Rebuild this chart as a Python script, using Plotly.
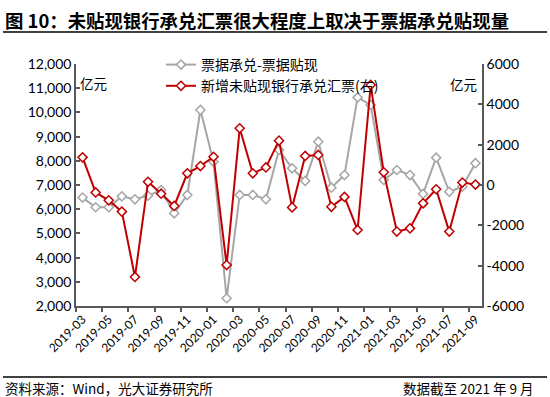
import plotly.graph_objects as go

# ---------------- data ----------------
months = [
    "2019-03", "2019-04", "2019-05", "2019-06", "2019-07", "2019-08", "2019-09", "2019-10",
    "2019-11", "2019-12", "2020-01", "2020-02", "2020-03", "2020-04", "2020-05", "2020-06",
    "2020-07", "2020-08", "2020-09", "2020-10", "2020-11", "2020-12", "2021-01", "2021-02",
    "2021-03", "2021-04", "2021-05", "2021-06", "2021-07", "2021-08", "2021-09",
]
accept_minus_discount = [
    6480, 6080, 6080, 6530, 6410, 6560, 6790, 5830,
    6590, 10100, 7960, 2320, 6590, 6590, 6410, 8450,
    7690, 7170, 8790, 6890, 7410, 10620, 10310, 7210,
    7620, 7410, 6630, 8130, 6720, 6930, 7900,
]
new_undiscounted = [
    1370, -370, -760, -1320, -4560, 160, -430, -1040,
    580, 940, 1400, -3970, 2810, 580, 870, 2200,
    -1110, 1440, 1490, -1080, -590, -2230, 4960, 630,
    -2310, -2150, -910, -210, -2310, 120, 20,
]
name_gray = "票据承兑-票据贴现"
name_red = "新增未贴现银行承兑汇票(右)"
left_ticks = [2000, 3000, 4000, 5000, 6000, 7000, 8000, 9000, 10000, 11000, 12000]
right_ticks = [-6000, -4000, -2000, 0, 2000, 4000, 6000]
right_tick_text = ["-6000", "-4000", "-2000", "0", "2000", "4000", "6000"]
unit_text = "亿元"
title_text = "图 10：未贴现银行承兑汇票很大程度上取决于票据承兑贴现量"
source_text = "资料来源：Wind，光大证券研究所"
date_text = "数据截至 2021 年 9 月"

# ---------------- layout helpers ----------------
W, H = 550, 397
PL, PR, PT, PB = 76, 482, 64, 306  # plot area in pixels


def px(x):
    return (x - PL) / (PR - PL)


def py(y):
    return (PB - y) / (PB - PT)


NUM_FONT = "Lato, 'Noto Sans CJK SC', sans-serif"
CJK_FONT = "'Noto Sans CJK SC', Lato, sans-serif"
AXIS_COLOR = "#595959"

idx = list(range(len(months)))

fig = go.Figure()
fig.add_trace(go.Scatter(
    x=idx, y=accept_minus_discount, name=name_gray, mode="lines+markers",
    line=dict(color="#A6A6A6", width=2),
    marker=dict(symbol="diamond", size=7, color="white", line=dict(color="#A6A6A6", width=1.5)),
    yaxis="y",
))
fig.add_trace(go.Scatter(
    x=idx, y=new_undiscounted, name=name_red, mode="lines+markers",
    line=dict(color="#C00000", width=2),
    marker=dict(symbol="diamond", size=7, color="white", line=dict(color="#C00000", width=1.5)),
    yaxis="y2",
))

fig.update_layout(
    width=W, height=H,
    margin=dict(l=PL, r=W - PR, t=PT, b=H - PB, pad=0),
    paper_bgcolor="white", plot_bgcolor="white",
    font=dict(family=NUM_FONT, size=13, color="#000000"),
    showlegend=True,
    legend=dict(
        x=px(161), y=py(49), xanchor="left", yanchor="top",
        bgcolor="rgba(0,0,0,0)", font=dict(family=CJK_FONT, size=14, color="#000"),
        tracegroupgap=0, itemwidth=30,
    ),
    xaxis=dict(
        range=[-0.5, len(months) - 0.5],
        tickmode="array", tickvals=idx[::2], ticktext=months[::2],
        tickangle=-45, ticks="", showgrid=False, zeroline=False,
        showline=True, linecolor=AXIS_COLOR, linewidth=1.5,
        tickfont=dict(family=NUM_FONT, size=12, color="#000"),
        minor=dict(tickmode="array", tickvals=[i - 0.5 for i in idx[::2]],
                   ticks="outside", ticklen=4, tickcolor=AXIS_COLOR, tickwidth=1.5, showgrid=False),
    ),
    yaxis=dict(
        range=[2000, 12000], tickmode="array", tickvals=left_ticks, tickformat=",d",
        ticks="inside", ticklen=4, tickcolor=AXIS_COLOR, tickwidth=1.5,
        showgrid=False, zeroline=False, showline=True, linecolor=AXIS_COLOR, linewidth=1.5,
        tickfont=dict(family=NUM_FONT, size=14, color="#000"),
    ),
    yaxis2=dict(
        range=[-6000, 6000], overlaying="y", side="right",
        tickmode="array", tickvals=right_ticks, ticktext=right_tick_text,
        ticks="inside", ticklen=4, tickcolor=AXIS_COLOR, tickwidth=1.5,
        showgrid=False, zeroline=False, showline=True, linecolor=AXIS_COLOR, linewidth=1.5,
        tickfont=dict(family=NUM_FONT, size=14, color="#000"),
    ),
)

annotations = [
    dict(text="<b>" + title_text + "</b>", x=px(3), y=py(20), xref="paper", yref="paper",
         xanchor="left", yanchor="middle", showarrow=False,
         font=dict(family=CJK_FONT, size=18.4, color="#000")),
    dict(text=unit_text, x=px(78), y=py(83), xref="paper", yref="paper",
         xanchor="left", yanchor="middle", showarrow=False,
         font=dict(family=CJK_FONT, size=13.5, color="#000")),
    dict(text=unit_text, x=px(479), y=py(84), xref="paper", yref="paper",
         xanchor="right", yanchor="middle", showarrow=False,
         font=dict(family=CJK_FONT, size=13.5, color="#000")),
    dict(text=source_text, x=px(3), y=py(388), xref="paper", yref="paper",
         xanchor="left", yanchor="middle", showarrow=False,
         font=dict(family=CJK_FONT, size=13.5, color="#000")),
    dict(text=date_text, x=px(536), y=py(388), xref="paper", yref="paper",
         xanchor="right", yanchor="middle", showarrow=False,
         font=dict(family=CJK_FONT, size=13.5, color="#000")),
]
fig.update_layout(annotations=annotations)

shapes = [
    dict(type="line", xref="paper", yref="paper", x0=px(3), x1=px(547), y0=py(32), y1=py(32),
         line=dict(color="#000", width=1.5)),
    dict(type="line", xref="paper", yref="paper", x0=px(3), x1=px(547), y0=py(377), y1=py(377),
         line=dict(color="#000", width=1.5)),
]
fig.update_layout(shapes=shapes)

fig.write_html(
    "out.html",
    config={"displayModeBar": False},
    post_script="document.body.style.margin='0';document.body.style.padding='0';"
                "document.body.style.overflow='hidden';",
)
